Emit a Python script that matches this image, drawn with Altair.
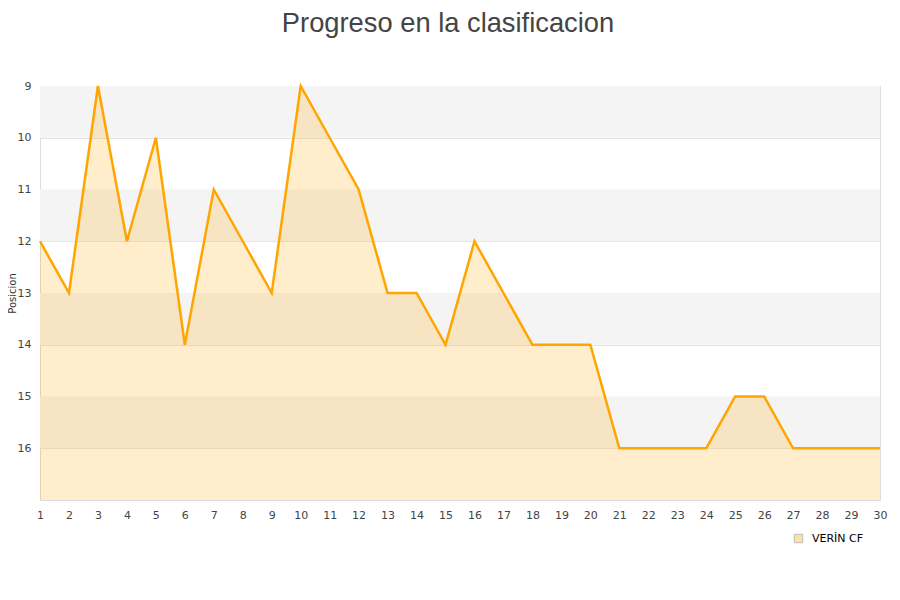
import altair as alt
import pandas as pd

jornadas = list(range(1, 31))
posiciones = [12, 13, 9, 12, 10, 14, 11, 12, 13, 9, 10, 11, 13, 13, 14, 12, 13, 14, 14, 14,
              16, 16, 16, 16, 15, 15, 16, 16, 16, 16]
equipo = "VERİN CF"
band_start = [9, 11, 13, 15]
band_end = [10, 12, 14, 16]

df = pd.DataFrame({"jornada": jornadas, "pos": posiciones, "base": [17] * len(jornadas),
                   "equipo": [equipo] * len(jornadas)})
bands = pd.DataFrame({"y1": band_start, "y2": band_end})

xscale = alt.Scale(domain=[1, 30], nice=False, zero=False)
yscale = alt.Scale(domain=[9, 17], reverse=True, nice=False, zero=False)

xaxis = alt.Axis(values=jornadas, title=None, grid=False, ticks=False, domain=False,
                 labelFontSize=11, labelColor="#444", labelPadding=9,
                 labelOverlap=False, labelFlush=False, labelBound=False,
                 labelFont="DejaVu Sans")

band_layer = alt.Chart(bands).mark_rect(color="#f4f4f4").encode(
    x=alt.value(0), x2=alt.value(840),
    y=alt.Y("y1:Q", scale=yscale,
            axis=alt.Axis(values=list(range(9, 17)), title="Posicion", grid=True,
                          gridColor="#e3e3e3", ticks=False, domain=False,
                          labelFontSize=11, labelColor="#444", labelPadding=9,
                          titleFontSize=10, titleFontWeight="normal", titleColor="#333",
                          titleX=-23, titleY=207, titleAngle=270, titleAlign="center",
                          titleBaseline="bottom",
                          labelFont="DejaVu Sans", titleFont="DejaVu Sans")),
    y2="y2:Q",
)

area = alt.Chart(df).mark_area(fillOpacity=0.2).encode(
    x=alt.X("jornada:Q", scale=xscale, axis=xaxis),
    y=alt.Y("pos:Q", scale=yscale),
    y2="base:Q",
    fill=alt.Fill("equipo:N", scale=alt.Scale(domain=[equipo], range=["#ffa500"]),
                  legend=alt.Legend(title=None, orient="none", legendX=753, legendY=447,
                                    symbolType="square", symbolSize=70,
                                    symbolOpacity=0.35, labelOffset=8,
                                    symbolStrokeColor="#444", symbolStrokeWidth=1,
                                    labelFontSize=11, labelColor="#000",
                                    labelFont="DejaVu Sans")),
)

line = alt.Chart(df).mark_line(color="#ffa500", strokeWidth=2.5).encode(
    x=alt.X("jornada:Q", scale=xscale, axis=xaxis),
    y=alt.Y("pos:Q", scale=yscale),
)

chart = alt.layer(band_layer, area, line).properties(
    width=840, height=414,
    autosize=alt.AutoSizeParams(type="none"),
    padding={"left": 32, "top": 78, "right": 12, "bottom": 86},
    title=alt.TitleParams("Progreso en la clasificacion", fontSize=27.3, fontWeight="normal",
                          color="#444", font="Liberation Sans", anchor="middle", dx=-12,
                          offset=43),
).configure_view(stroke="#dddddd", strokeWidth=1).configure_axisX(labelOverlap=False)

chart.save("out.html", embed_options={"renderer": "svg", "actions": False})
